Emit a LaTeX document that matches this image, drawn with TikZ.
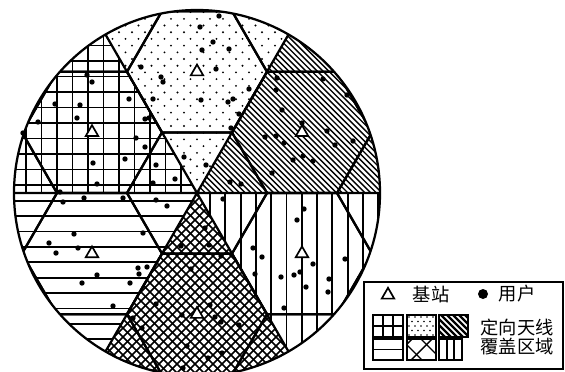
\documentclass[tikz,border=0pt]{standalone}
\usepackage{fontspec}
\newfontfamily\cjk{Noto Sans CJK SC}
\usetikzlibrary{shapes.geometric}

\begin{document}
\begin{tikzpicture}[x=0.025cm,y=0.025cm,
  edgeline/.style={line width=1.6pt},
  hatch/.style={line width=1.3pt},
  finehatch/.style={line width=1pt},
  crossline/.style={line width=1.2pt},
  station/.style={regular polygon,regular polygon sides=3,draw,line width=1.2pt,fill=white,inner sep=0pt,minimum size=0.36cm},
  legendtext/.style={font=\cjk\fontsize{13pt}{15pt}\selectfont,inner sep=0pt}]
\path[use as bounding box] (-197,-178) rectangle (368,193);

% sector patterns
\begin{scope}
\clip (0,0) circle (183);
\begin{scope}
\clip (0,0) -- (0:260) -- (30:260) -- (60:260) -- cycle;
\foreach \c in {-20,-14.3,...,290} \draw[finehatch] ({\c-200},200) -- ({\c+200},-200);
\end{scope}
\begin{scope}
\clip (0,0) -- (60:260) -- (90:260) -- (120:260) -- cycle;
\foreach \r in {0,...,28} \foreach \c in {-8,...,8} \fill ({13*\c+6.5*mod(\r,2)},{6.7*\r}) circle (1.05);
\end{scope}
\begin{scope}
\clip (0,0) -- (120:260) -- (150:260) -- (180:260) -- cycle;
\foreach \k in {-7,...,5} \draw[hatch] ({-78+15.5*\k},-5) -- ++(0,200);
\foreach \k in {0,...,12} \draw[hatch] (-200,{8+15.5*\k}) -- (5,{8+15.5*\k});
\end{scope}
\begin{scope}
\clip (0,0) -- (180:260) -- (210:260) -- (240:260) -- cycle;
\foreach \k in {0,...,12} \draw[hatch] (-200,{-7.7-15.4*\k}) -- (5,{-7.7-15.4*\k});
\end{scope}
\begin{scope}
\clip (0,0) -- (240:260) -- (270:260) -- (300:260) -- cycle;
\foreach \c in {-290,-281,...,290} {
  \draw[crossline] (\c,0) -- ++(-200,-200);
  \draw[crossline] (\c,0) -- ++(200,-200);
}
\end{scope}
\begin{scope}
\clip (0,0) -- (300:260) -- (330:260) -- (360:260) -- cycle;
\foreach \k in {0,...,12} \draw[hatch] ({13+15.3*\k},5) -- ++(0,-200);
\end{scope}
\end{scope}

% cells and antenna sectors
\begin{scope}
\clip (0,0) circle (183);
\foreach \i in {-3,...,3} \foreach \j in {-3,...,3}
  \draw[edgeline] ({105*\i},{121.24*\j+60.62*\i}) ++(0:70) -- ++(120:70) -- ++(180:70) -- ++(240:70) -- ++(300:70) -- ++(0:70) -- cycle;
\draw[edgeline] (0:190) -- (180:190) (60:190) -- (240:190) (120:190) -- (300:190);
\end{scope}
\draw[edgeline] (0,0) circle (183);

% users
\begin{scope}[shift={(-197,193)},yscale=-1]
\foreach \p in {(219,16),(200,27),(213,42),(202,50),(229,49),(141,67),(216,69),(161,77),(163,82),(249,89),(153,99),(201,100),(233,99),(228,102),(239,114),(231,128),(184,157),(206,165),
  (277,78),(276,90),(323,79),(347,95),(282,110),(265,137),(276,136),(284,143),(302,123),(327,131),(335,145),(353,141),(303,156),(293,160),(313,161),(272,173),(230,182),(241,184),
  (92,82),(87,75),(55,104),(80,105),(129,99),(77,118),(38,122),(145,119),(149,118),(23,133),(136,138),(145,147),(93,163),(125,159),(156,165),(97,184),(153,183),(175,179),(60,192),
  (63,202),(84,198),(123,198),(156,200),(167,206),(74,234),(49,243),(78,248),(56,253),(143,233),(138,268),(147,267),(139,274),(97,275),(82,283),(130,283),(113,306),
  (205,228),(181,246),(209,245),(221,256),(191,269),(156,304),(182,315),(210,305),(215,317),(221,322),(239,325),(133,318),(142,328),(187,346),(222,353),(208,358),(183,368),
  (223,199),(304,209),(297,220),(253,248),(262,257),(313,264),(345,259),(255,274),(281,277),(294,275),(300,272),(306,287),(329,279),(328,292),(284,308)}
  \fill \p circle (2.7);
\end{scope}

% base stations
\foreach \a/\n in {30/1,90/2,150/3,210/4,270/5,330/6}
  \node[station] (bs\n) at (\a:121.24) {};

% legend
\draw[line width=1.1pt] (167,-89) rectangle (366,-176);
\node[station] (keybs) at (191,-102) {};
\node[legendtext] (keybstext) at (234,-102) {基站};
\node[circle,fill,inner sep=0pt,minimum size=0.25cm] (keyuser) at (286,-101) {};
\node[legendtext] (keyusertext) at (320,-101) {用户};
\draw[hatch] (176,-122) rectangle (206,-144) (186,-122) -- (186,-144) (196,-122) -- (196,-144) (176,-133) -- (206,-133);
\begin{scope}
\clip (210,-122) rectangle (239,-144);
\foreach \r in {0,...,4} \foreach \c in {0,...,5} \fill ({212+6*\c+3*mod(\r,2)},{-124-4.5*\r}) circle (0.9);
\end{scope}
\draw[hatch] (210,-122) rectangle (239,-144);
\begin{scope}
\clip (242,-122) rectangle (271,-144);
\foreach \c in {92,98,...,158} \draw[line width=1.6pt] ({\c+110},-110) -- ({\c+160},-160);
\end{scope}
\draw[hatch] (242,-122) rectangle (271,-144);
\draw[hatch] (176,-146) rectangle (206,-167) (176,-156.5) -- (206,-156.5);
\begin{scope}
\clip (210,-146) rectangle (239,-167);
\foreach \c in {361,381} \draw[finehatch] ({\c-200},-200) -- ({\c+0},0);
\foreach \c in {58,78} \draw[finehatch] ({\c+200},-200) -- ({\c+0},0);
\end{scope}
\draw[hatch] (210,-146) rectangle (239,-167) (250,-146) -- (250,-167) (257,-146) -- (257,-167);
\draw[hatch] (242,-146) rectangle (265,-167);
\node[legendtext] (keyarea1) at (320,-135) {定向天线};
\node[legendtext] (keyarea2) at (320,-154) {覆盖区域};
\end{tikzpicture}
\end{document}
